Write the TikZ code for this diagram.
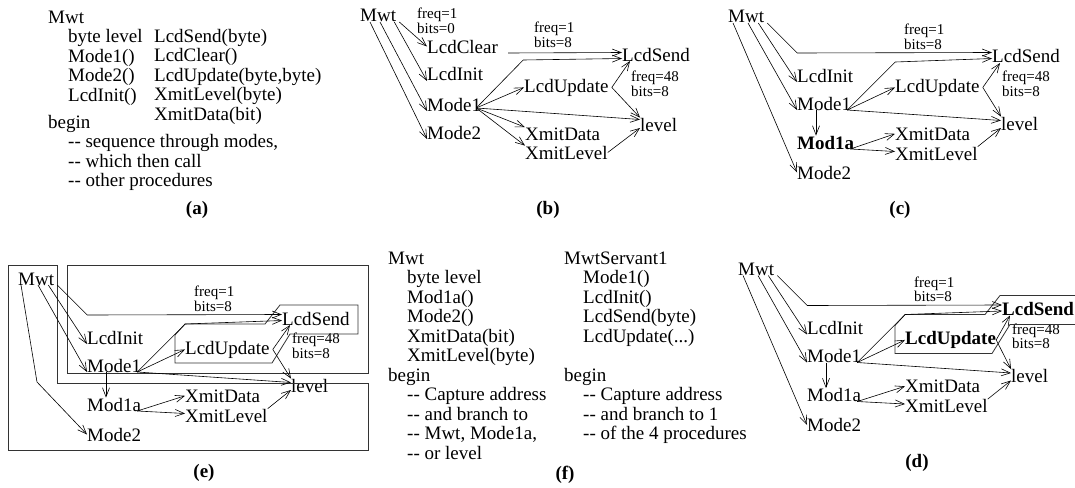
\documentclass[tikz,border=0pt]{standalone}
\usepackage{fontspec}
\setmainfont{Liberation Serif}
\usepackage{tikz}
\usetikzlibrary{arrows.meta}

\begin{document}
\begin{tikzpicture}[
    x=1pt, y=-1pt,
    >={Straight Barb[length=9pt,width=7pt]},
    proc/.style={anchor=base west, inner sep=0pt, font=\fontsize{19}{20}\selectfont},
    bproc/.style={proc, font=\bfseries\fontsize{19}{20}\selectfont},
    note/.style={anchor=north west, inner sep=0pt, align=left, font=\fontsize{15}{14.5}\selectfont},
    listing/.style={anchor=north west, inner sep=0pt, align=left, font=\fontsize{19}{19.5}\selectfont},
    caption/.style={inner sep=0pt, font=\bfseries\fontsize{19}{20}\selectfont},
    call/.style={->, line width=0.6pt},
    group/.style={line width=0.8pt, draw=black!80}
]
\useasboundingbox (0,0) rectangle (1075,487);

\node[listing] (aDecl) at (48,10.4) {Mwt\\\hspace*{20pt}byte level\\\hspace*{20pt}Mode1()\\\hspace*{20pt}Mode2()\\\hspace*{20pt}LcdInit()};
\node[listing] (aCalls) at (154,28.8) {LcdSend(byte)\\LcdClear()\\LcdUpdate(byte,byte)\\XmitLevel(byte)\\XmitData(bit)};
\node[listing] (aBody) at (48,115) {begin\\\hspace*{20pt}-{}- sequence through modes,\\\hspace*{20pt}-{}- which then call\\\hspace*{20pt}-{}- other procedures};
\node[caption] (aCap) at (197,210) {(a)};

\node[proc] (bMwt) at (360,22) {Mwt};
\node[note] (bClearNote) at (417,8) {freq=1\\bits=0};
\node[proc] (bLcdClear) at (427,53) {LcdClear};
\node[proc] (bLcdInit) at (427,81) {LcdInit};
\node[proc] (bMode1) at (427,111) {Mode1};
\node[proc] (bMode2) at (427,139) {Mode2};
\node[note] (bSendNote) at (534,22) {freq=1\\bits=8};
\node[proc] (bLcdSend) at (622,61) {LcdSend};
\node[proc] (bLcdUpdate) at (524,92) {LcdUpdate};
\node[note] (bUpdNote) at (631,71) {freq=48\\bits=8};
\node[proc] (blevel) at (640,131) {level};
\node[proc] (bXmitData) at (525,140) {XmitData};
\node[proc] (bXmitLevel) at (525,159) {XmitLevel};
\node[caption] (bCap) at (548,210) {(b)};

\draw[call] ([xshift=3pt]bMwt.base east) -- (bLcdClear.west);
\draw[call] ([xshift=-2pt]bMwt.base east) -- (bLcdInit.base west);
\draw[call] ([xshift=20pt]bMwt.base west) -- (bMode1.base west);
\draw[call] ([xshift=10pt]bMwt.base west) -- (bMode2.base west);
\draw[call] ([xshift=10pt]bLcdClear.base east) -- ([yshift=2pt]bLcdSend.west);
\draw[call] ([xshift=-5pt,yshift=3pt]bMode1.base east) -- ++(47,-48) -- ([yshift=-4pt]bLcdSend.west);
\draw[call] ([xshift=-5pt,yshift=3pt]bMode1.base east) -- (bLcdUpdate.west);
\draw[call] ([xshift=-5pt,yshift=3pt]bMode1.base east) -- ([yshift=5pt]blevel.west);
\draw[call] ([xshift=-5pt,yshift=3pt]bMode1.base east) -- (bXmitData.north west);
\draw[call] ([xshift=-5pt,yshift=3pt]bMode1.base east) -- (bXmitLevel.north west);
\draw[call] ([xshift=3pt]bLcdUpdate.east) -- ([xshift=8pt]bLcdSend.base west);
\draw[call] ([xshift=3pt]bLcdUpdate.east) -- (blevel.north west);
\draw[call] (bXmitLevel.east) -- ([yshift=3pt]blevel.base west);

\begin{scope}[shift={(710,-262)}]
\node[proc] (cMwt) at (18,285) {Mwt};
\node[note] (cSendNote) at (194,286) {freq=1\\bits=8};
\node[proc] (cLcdSend) at (282,325) {LcdSend};
\node[proc] (cLcdInit) at (87,344) {LcdInit};
\node[proc] (cLcdUpdate) at (185,354) {LcdUpdate};
\node[note] (cUpdNote) at (292,333) {freq=48\\bits=8};
\node[proc] (cMode1) at (87,372) {Mode1};
\node[proc] (clevel) at (291,392) {level};
\node[proc] (cXmitData) at (185,402) {XmitData};
\node[bproc] (cMod1a) at (87,411) {Mod1a};
\node[proc] (cXmitLevel) at (185,422) {XmitLevel};
\node[proc] (cMode2) at (87,441) {Mode2};

\draw[call] ([xshift=3pt]cMwt.base east) -- ++(30,30) -- ([yshift=4pt]cLcdSend.west);
\draw[call] ([xshift=-6pt]cMwt.base east) -- (cLcdInit.base west);
\draw[call] ([xshift=20pt]cMwt.base west) -- (cMode1.base west);
\draw[call] ([xshift=5pt]cMwt.base west) -- (cMode2.west);
\draw[call] ([xshift=19pt]cMode1.base west) -- ([xshift=19pt]cMod1a.north west);
\draw[call] ([xshift=-4pt]cMode1.base east) -- ++(48,-48) -- ([yshift=-2pt]cLcdSend.west);
\draw[call] ([xshift=-4pt]cMode1.base east) -- (cLcdUpdate.west);
\draw[call] ([xshift=-4pt]cMode1.base east) -- ([yshift=3pt]clevel.west);
\draw[call] ([xshift=3pt]cLcdUpdate.east) -- ([xshift=8pt]cLcdSend.base west);
\draw[call] ([xshift=3pt]cLcdUpdate.east) -- (clevel.north west);
\draw[call] ([xshift=-4pt]cMod1a.base east) -- (cXmitData.west);
\draw[call] ([xshift=-4pt]cMod1a.base east) -- ([yshift=2pt]cXmitLevel.west);
\draw[call] (cXmitLevel.north east) -- ([yshift=2pt]clevel.base west);
\end{scope}
\node[caption] (cCap) at (900,210) {(c)};

\node[proc] (eMwt) at (18,285) {Mwt};
\node[note] (eSendNote) at (194,286) {freq=1\\bits=8};
\node[proc] (eLcdSend) at (282,325) {LcdSend};
\node[proc] (eLcdInit) at (87,344) {LcdInit};
\node[proc] (eLcdUpdate) at (185,354) {LcdUpdate};
\node[note] (eUpdNote) at (292,333) {freq=48\\bits=8};
\node[proc] (eMode1) at (87,372) {Mode1};
\node[proc] (elevel) at (291,392) {level};
\node[proc] (eXmitData) at (185,402) {XmitData};
\node[proc] (eMod1a) at (87,411) {Mod1a};
\node[proc] (eXmitLevel) at (185,422) {XmitLevel};
\node[proc] (eMode2) at (87,441) {Mode2};
\node[caption] (eCap) at (204,473) {(e)};

\draw[group] (8,265) -- (57,265) -- (57,383) -- (368,383) -- (368,450) -- (8,450) -- cycle;
\draw[group] (67,265) rectangle (368,373);
\draw[group] (175,363) -- (175,335) -- (185,324) -- (265,324) -- (280,305) -- (358,305) -- (358,334) -- (290,334) -- (272,363) -- cycle;

\draw[call] ([xshift=3pt]eMwt.base east) -- ++(30,30) -- ([yshift=4pt]eLcdSend.west);
\draw[call] ([xshift=-6pt]eMwt.base east) -- (eLcdInit.base west);
\draw[call] ([xshift=20pt]eMwt.base west) -- (eMode1.base west);
\draw[call] ([xshift=3pt]eMwt.base west) -- ++(16,97) -- (eMode2.west);
\draw[call] ([xshift=19pt]eMode1.base west) -- ([xshift=19pt]eMod1a.north west);
\draw[call] ([xshift=-4pt]eMode1.base east) -- ++(48,-48) -- ([yshift=-2pt]eLcdSend.west);
\draw[call] ([xshift=-4pt]eMode1.base east) -- (eLcdUpdate.west);
\draw[call] ([xshift=-4pt]eMode1.base east) -- ([yshift=3pt]elevel.west);
\draw[call] ([xshift=3pt]eLcdUpdate.east) -- ([xshift=8pt]eLcdSend.base west);
\draw[call] ([xshift=3pt]eLcdUpdate.east) -- (elevel.north west);
\draw[call] ([xshift=-4pt]eMod1a.base east) -- (eXmitData.west);
\draw[call] ([xshift=-4pt]eMod1a.base east) -- ([yshift=2pt]eXmitLevel.west);
\draw[call] (eXmitLevel.north east) -- ([yshift=2pt]elevel.base west);

\node[listing] (fMwt) at (388,251.4) {Mwt\\\hspace*{19pt}byte level\\\hspace*{19pt}Mod1a()\\\hspace*{19pt}Mode2()\\\hspace*{19pt}XmitData(bit)\\\hspace*{19pt}XmitLevel(byte)\\begin\\\hspace*{19pt}-{}- Capture address\\\hspace*{19pt}-{}- and branch to\\\hspace*{19pt}-{}- Mwt, Mode1a,\\\hspace*{19pt}-{}- or level};
\node[listing] (fServant) at (564,251.4) {MwtServant1\\\hspace*{19pt}Mode1()\\\hspace*{19pt}LcdInit()\\\hspace*{19pt}LcdSend(byte)\\\hspace*{19pt}LcdUpdate(...)\\[19.5pt]begin\\\hspace*{19pt}-{}- Capture address\\\hspace*{19pt}-{}- and branch to 1\\\hspace*{19pt}-{}- of the 4 procedures};
\node[caption] (fCap) at (565,475) {(f)};

\begin{scope}[shift={(720,-9.5)}]
\node[proc] (dMwt) at (18,285) {Mwt};
\node[note] (dSendNote) at (194,286) {freq=1\\bits=8};
\node[bproc] (dLcdSend) at (282,325) {LcdSend};
\node[proc] (dLcdInit) at (87,344) {LcdInit};
\node[bproc] (dLcdUpdate) at (185,354) {LcdUpdate};
\node[note] (dUpdNote) at (292,333) {freq=48\\bits=8};
\node[proc] (dMode1) at (87,372) {Mode1};
\node[proc] (dlevel) at (291,392) {level};
\node[proc] (dXmitData) at (185,402) {XmitData};
\node[proc] (dMod1a) at (87,411) {Mod1a};
\node[proc] (dXmitLevel) at (185,422) {XmitLevel};
\node[proc] (dMode2) at (87,441) {Mode2};

\draw[group] (175,363) -- (175,335) -- (185,324) -- (265,324) -- (280,305) -- (358,305) -- (358,334) -- (290,334) -- (272,363) -- cycle;

\draw[call] ([xshift=3pt]dMwt.base east) -- ++(30,30) -- ([yshift=4pt]dLcdSend.west);
\draw[call] ([xshift=-6pt]dMwt.base east) -- (dLcdInit.base west);
\draw[call] ([xshift=20pt]dMwt.base west) -- (dMode1.base west);
\draw[call] ([xshift=5pt]dMwt.base west) -- (dMode2.west);
\draw[call] ([xshift=19pt]dMode1.base west) -- ([xshift=19pt]dMod1a.north west);
\draw[call] ([xshift=-4pt]dMode1.base east) -- ++(48,-48) -- ([yshift=-2pt]dLcdSend.west);
\draw[call] ([xshift=-4pt]dMode1.base east) -- (dLcdUpdate.west);
\draw[call] ([xshift=-4pt]dMode1.base east) -- ([yshift=3pt]dlevel.west);
\draw[call] (dLcdUpdate.east) -- ([xshift=8pt]dLcdSend.base west);
\draw[call] (dLcdUpdate.east) -- (dlevel.north west);
\draw[call] ([xshift=-4pt]dMod1a.base east) -- (dXmitData.west);
\draw[call] ([xshift=-4pt]dMod1a.base east) -- ([yshift=2pt]dXmitLevel.west);
\draw[call] (dXmitLevel.north east) -- ([yshift=2pt]dlevel.base west);
\end{scope}
\node[caption] (dCap) at (917,463) {(d)};
\end{tikzpicture}
\end{document}
